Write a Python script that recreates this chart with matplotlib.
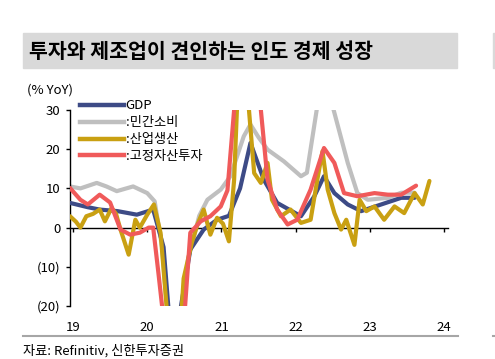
import matplotlib
matplotlib.use("Agg")
import matplotlib.pyplot as plt
from matplotlib.patches import Rectangle
from matplotlib.lines import Line2D

plt.rcParams['font.family'] = ['Noto Sans CJK KR', 'DejaVu Sans']

# data (decimal years, % YoY)
gdp_t = [2018.96, 2019.2, 2019.36, 2019.6, 2019.86, 2020.08, 2020.22, 2020.3, 2020.42,
         2020.58, 2020.76, 2020.94, 2021.1, 2021.25, 2021.39, 2021.57, 2021.75, 2022.07,
         2022.25, 2022.38, 2022.52, 2022.70, 2022.88, 2023.15, 2023.42, 2023.6]
gdp_v = [6.3, 5.2, 4.6, 4.2, 3.3, 4.6, -5, -24, -24,
         -5.6, -0.5, 2.0, 3.0, 10, 21.6, 12.2, 6.3, 2.9,
         8.0, 13.1, 8.8, 5.9, 4.2, 5.9, 7.6, 7.6]

cons_t = [2018.96, 2019.1, 2019.32, 2019.45, 2019.59, 2019.81, 2020.0, 2020.1, 2020.2,
          2020.28, 2020.45, 2020.55, 2020.7, 2020.81, 2020.99, 2021.12, 2021.3, 2021.39,
          2021.5, 2021.62, 2021.84, 2022.07, 2022.15, 2022.29, 2022.40, 2022.51, 2022.70,
          2022.83, 2022.97, 2023.24, 2023.42, 2023.6]
cons_v = [10.5, 10, 11.4, 10.5, 9.3, 10.5, 8.8, 6.7, -5,
          -24, -24, -8, 3, 7.1, 9.7, 13.1, 23.3, 26.3,
          23, 19.9, 16.9, 13.1, 14, 31, 36, 30, 16.5,
          8.8, 7.1, 7.6, 8.9, 8.9]

ind_t = [2018.96, 2019.04, 2019.1, 2019.18, 2019.27, 2019.36, 2019.43, 2019.52, 2019.58,
         2019.64, 2019.75, 2019.84, 2019.9, 2020.0, 2020.09, 2020.18, 2020.26, 2020.34,
         2020.4, 2020.49, 2020.6, 2020.68, 2020.76, 2020.85, 2020.94, 2021.02, 2021.1,
         2021.17, 2021.25, 2021.3, 2021.37, 2021.44, 2021.53, 2021.62, 2021.68, 2021.8,
         2021.93, 2022.07, 2022.2, 2022.29, 2022.36, 2022.43, 2022.52, 2022.61, 2022.68,
         2022.79, 2022.86, 2022.95, 2023.06, 2023.19, 2023.33, 2023.46, 2023.6, 2023.71,
         2023.8]
ind_v = [2.9, 1.5, 0, 2.9, 3.5, 4.6, 1.6, 5, 3.5,
         -0.5, -6.9, 2.0, 0, 3.3, 5.9, -1.4, -20, -50,
         -40, -13, -3.9, 1, 4.6, -1.8, 2.5, 1, -3.5,
         12.2, 50, 60, 30, 13.9, 11.4, 16.5, 7.1, 2.9,
         4.6, 1.2, 2.0, 12.2, 19.5, 9.7, 3.7, -0.5, 2,
         -4.4, 7.1, 4.2, 5.4, 2.0, 5.4, 3.7, 8.8, 5.9,
         11.9]

inv_t = [2018.96, 2019.1, 2019.2, 2019.36, 2019.5, 2019.64, 2019.77, 2019.9, 2020.02,
         2020.08, 2020.15, 2020.2, 2020.3, 2020.45, 2020.51, 2020.58, 2020.72, 2020.85,
         2020.99, 2021.08, 2021.17, 2021.25, 2021.45, 2021.53, 2021.62, 2021.75, 2021.89,
         2022.02, 2022.2, 2022.38, 2022.52, 2022.65, 2022.83, 2023.06, 2023.24, 2023.42,
         2023.62]
inv_v = [10.1, 7.1, 5.9, 8.4, 6.4, -0.5, -1.8, -1.3, 0,
         0, -11.5, -20, -30, -30, -20, -1.3, 1.6, 2.9,
         5.4, 9.5, 30, 50, 50, 30, 12.2, 4.6, 0.8,
         2.0, 9.7, 20.3, 16.5, 8.8, 8.0, 8.8, 8.4, 8.4,
         10.7]

years = [2019, 2020, 2021, 2022, 2023, 2024]
year_labels = ['19', '20', '21', '22', '23', '24']
yticks = [30, 20, 10, 0, -10, -20]
ytick_labels = ['30', '20', '10', '0', '(10)', '(20)']

c_gdp = '#3d4b86'
c_cons = '#bfbfbf'
c_ind = '#c9a012'
c_inv = '#f05a5a'

fig = plt.figure(figsize=(4.95, 3.59), dpi=100)
ax = fig.add_axes([70 / 495, 1 - 306 / 359, 378 / 495, 196 / 359])

lw = 3.0
ax.plot(cons_t, cons_v, color=c_cons, lw=lw, solid_capstyle='round', zorder=2)
ax.plot(gdp_t, gdp_v, color=c_gdp, lw=lw, solid_capstyle='round', zorder=3)
ax.plot(ind_t, ind_v, color=c_ind, lw=lw, solid_capstyle='round', zorder=4)
ax.plot(inv_t, inv_v, color=c_inv, lw=lw, solid_capstyle='round', zorder=5)

ax.set_xlim(2018.96, 2024.05)
ax.set_ylim(-20, 30)
ax.set_yticks(yticks)
ax.set_yticklabels(ytick_labels)
ax.set_xticks(years)
ax.set_xticklabels(year_labels)

for s in ['top', 'right']:
    ax.spines[s].set_visible(False)
ax.spines['bottom'].set_position(('data', 0))
ax.spines['bottom'].set_linewidth(1.0)
ax.spines['left'].set_linewidth(1.0)
ax.tick_params(axis='y', direction='out', length=3, width=1, labelsize=9.5, pad=4)
ax.tick_params(axis='x', direction='out', length=3, width=1, labelsize=9.5, pad=64)

handles = [Line2D([], [], color=c, lw=3.2) for c in [c_gdp, c_cons, c_ind, c_inv]]
labels = ['GDP', ':민간소비', ':산업생산', ':고정자산투자']
leg = ax.legend(handles, labels, loc='upper left', bbox_to_anchor=(10 / 378, 1.055),
                frameon=False, fontsize=9.5, handlelength=3.3, handletextpad=0.15,
                labelspacing=0.3, borderpad=0, borderaxespad=0)
leg.set_zorder(10)

# title band
fig.patches.append(Rectangle((23 / 495, 1 - 68 / 359), 434 / 495, 35 / 359,
                             transform=fig.transFigure, color='#d9d9d9', zorder=0))
fig.patches.append(Rectangle((493 / 495, 1 - 68 / 359), 5 / 495, 35 / 359,
                             transform=fig.transFigure, color='#d9d9d9', zorder=0))
fig.text(29 / 495, 1 - 51 / 359, '투자와 제조업이 견인하는 인도 경제 성장', fontsize=14.8,
         fontweight='bold', va='center', ha='left')

fig.text(27 / 495, 1 - 90 / 359, '(% YoY)', fontsize=9.5, va='center', ha='left')

fig.lines.append(Line2D([23 / 495, 458 / 495], [1 - 336 / 359, 1 - 336 / 359],
                        transform=fig.transFigure, color='#a6a6a6', lw=1.5))
fig.lines.append(Line2D([493 / 495, 1], [1 - 336 / 359, 1 - 336 / 359],
                        transform=fig.transFigure, color='#a6a6a6', lw=1.5))
fig.text(23 / 495, 1 - 351 / 359, '자료: Refinitiv, 신한투자증권', fontsize=9.5,
         va='center', ha='left')

fig.savefig('out.png', dpi=100)
